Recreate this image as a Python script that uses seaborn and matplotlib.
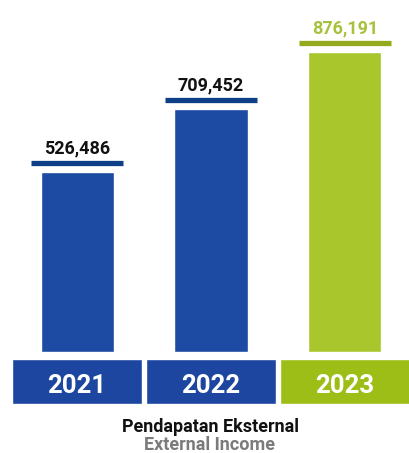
import matplotlib
matplotlib.use("Agg")
import matplotlib.pyplot as plt
import matplotlib.transforms as mtransforms
import seaborn as sns
import pandas as pd

# ---- data ----
years = ["2021", "2022", "2023"]
values = [526486, 709452, 876191]
title_id = "Pendapatan Eksternal"
title_en = "External Income"

# ---- styles ----
bar_colors = ["#1d4aa3", "#1d4aa3", "#a9c62c"]
box_colors = ["#1c46a0", "#1c46a0", "#9dbe17"]
cap_colors = ["#0f3f86", "#0f3f86", "#94aa1c"]
label_colors = ["#111111", "#111111", "#a6c23a"]

sns.set_theme(style="white")
plt.rcParams["font.family"] = ["Roboto", "DejaVu Sans"]

df = pd.DataFrame({"year": years, "value": values})

fig = plt.figure(figsize=(4.09, 4.53), dpi=100)
fig.patch.set_facecolor("white")

W, H = 409.0, 453.0
xlim = (-0.575, 2.478)

# main bar axes: bottom of bars at y=352px from top, top at figure top
ax = fig.add_axes([0, (H - 352) / H, 1, 352 / H])
sns.barplot(data=df, x="year", y="value", hue="year", palette=bar_colors,
            width=0.545, legend=False, ax=ax, saturation=1)
ax.set_xlim(*xlim)
ax.set_ylim(0, 1.028e6)
ax.axis("off")

# cap lines just above each bar
trans_cap = mtransforms.offset_copy(ax.transData, fig=fig, x=0, y=9, units="dots")
xs = list(range(len(values)))
ax.hlines(values, [x - 0.34 for x in xs], [x + 0.34 for x in xs],
          colors=cap_colors, linewidth=3.8, transform=trans_cap)

# value labels
for x, v, c in zip(xs, values, label_colors):
    ax.annotate(f"{v:,}", (x, v), xytext=(0, 13.3), textcoords="offset points",
                ha="center", va="baseline", fontsize=13, fontweight="bold",
                color=c)

# year boxes axes
ax2 = fig.add_axes([0, (H - 404) / H, 1, 45 / H])
box_df = pd.DataFrame({"year": years, "h": [1] * len(years)})
sns.barplot(data=box_df, x="year", y="h", hue="year", palette=box_colors,
            width=0.965, legend=False, ax=ax2, saturation=1)
ax2.set_xlim(*xlim)
ax2.set_ylim(0, 1)
ax2.axis("off")
for x, yr in zip(xs, years):
    ax2.text(x, 0.25, yr, ha="center", va="baseline", color="white",
             fontsize=18.5, fontweight="bold")

# titles
fig.text(210 / W, (H - 431.5) / H, title_id, ha="center", va="baseline",
         fontsize=13, fontweight="bold", color="#111111")
fig.text(210 / W, (H - 449.5) / H, title_en, ha="center", va="baseline",
         fontsize=13, fontweight="bold", color="#7b7b7b")

fig.savefig("out.png", dpi=100, facecolor="white")
